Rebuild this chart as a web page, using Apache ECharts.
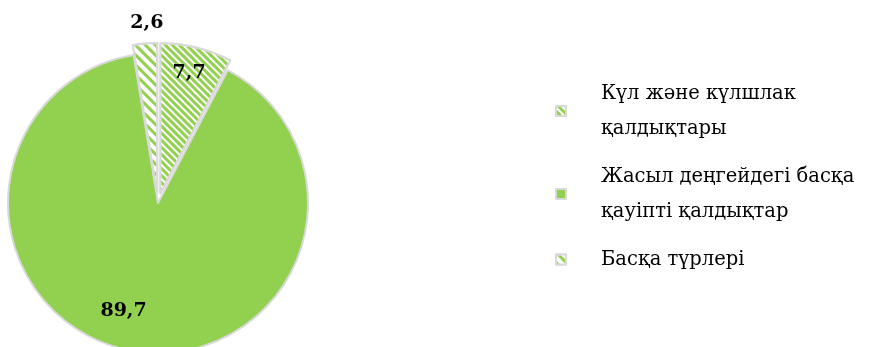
<!DOCTYPE html>
<html><head><meta charset="utf-8">
<script src="https://cdn.jsdelivr.net/npm/echarts@6/dist/echarts.min.js"></script>
<style>html,body{margin:0;padding:0;background:#fff}#c{width:871px;height:347px}</style>
</head><body><div id="c"></div>
<script>
const categories = ['Күл және күлшлак\nқалдықтары', 'Жасыл деңгейдегі басқа\nқауіпті қалдықтар', 'Басқа түрлері'];
const values = [7.7, 89.7, 2.6];
const labelTexts = ['7,7', '89,7', '2,6'];

const green = '#92d050';
const decals = [
  {symbol: 'rect', symbolSize: 1, color: '#ffffff', dashArrayX: [1, 0], dashArrayY: [2, 3], rotation: Math.PI / 4},
  null,
  {symbol: 'rect', symbolSize: 1, color: '#ffffff', dashArrayX: [1, 0], dashArrayY: [4, 3], rotation: Math.PI / 4}
];
const exploded = [true, false, true];
const labelShift = [[10, -44], [-22, 31], [-4, -92]];

const chart = echarts.init(document.getElementById('c'), null, {renderer: 'canvas'});
chart.setOption({
  animation: false,
  legend: {
    orient: 'vertical',
    left: 550,
    top: 71,
    itemWidth: 10,
    itemHeight: 10,
    itemGap: 13,
    icon: 'rect',
    selectedMode: false,
    textStyle: {fontFamily: 'DejaVu Serif', fontSize: 19.5, color: '#000', lineHeight: 35, padding: [0, 0, 0, 30]},
    data: categories
  },
  series: [{
    type: 'pie',
    center: [158, 203],
    radius: [0, 150],
    startAngle: 90,
    clockwise: true,
    selectedMode: 'multiple',
    selectedOffset: 10,
    emphasis: {disabled: true},
    select: {itemStyle: {borderColor: '#d9d9d9', borderWidth: 2}},
    itemStyle: {color: green, borderColor: '#d9d9d9', borderWidth: 2},
    label: {
      show: true,
      position: 'inside',
      fontFamily: 'DejaVu Serif',
      fontWeight: 'bold',
      fontSize: 19,
      color: '#000',
      formatter: p => labelTexts[p.dataIndex]
    },
    labelLine: {show: false},
    labelLayout: p => ({dx: labelShift[p.dataIndex][0], dy: labelShift[p.dataIndex][1]}),
    data: categories.map((n, i) => {
      const d = {name: n, value: values[i], selected: exploded[i]};
      if (decals[i]) d.itemStyle = {decal: decals[i]};
      return d;
    })
  }]
});
</script></body></html>
